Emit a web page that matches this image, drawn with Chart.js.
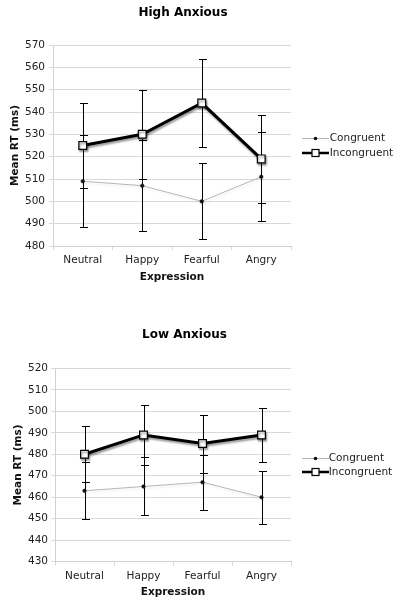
<!DOCTYPE html>
<html>
<head>
<meta charset="utf-8">
<script src="https://cdn.jsdelivr.net/npm/chart.js@4.4.1/dist/chart.umd.min.js"></script>
<style>
  body { margin: 0; background: #fff; }
  canvas { display: block; }
</style>
</head>
<body>
<canvas id="highChart" width="400" height="302"></canvas>
<canvas id="lowChart" width="400" height="302"></canvas>
<script>
const expressions = ['Neutral', 'Happy', 'Fearful', 'Angry'];
const seriesNames = ['Congruent', 'Incongruent'];

// High Anxious group
const highCongruent = [509, 507, 500, 511];
const highIncongruent = [525, 530, 544, 519];
const highCongruentErr = [20.5, 20.5, 17, 20];
const highIncongruentErr = [19, 20, 19.7, 19.7];
const highYRange = [480, 570];

// Low Anxious group
const lowCongruent = [463, 465, 467, 460];
const lowIncongruent = [480, 489, 485, 489];
const lowCongruentErr = [13.2, 13.5, 12.8, 12.3];
const lowIncongruentErr = [13, 13.8, 13.5, 12.7];
const lowYRange = [430, 520];

Chart.defaults.font.family = "'DejaVu Sans', Verdana, sans-serif";
Chart.defaults.color = '#222';

// vertical error bars, drawn under the markers
const errorBarPlugin = {
    id: 'errorBars',
    beforeDatasetsDraw(chart) {
        const ctx = chart.ctx;
        const yScale = chart.scales.y;
        ctx.save();
        ctx.strokeStyle = '#000';
        ctx.lineWidth = 1;
        chart.data.datasets.forEach((ds, i) => {
            const meta = chart.getDatasetMeta(i);
            if (!ds.errors || meta.hidden) return;
            meta.data.forEach((pt, j) => {
                const v = ds.data[j], e = ds.errors[j];
                const top = Math.round(yScale.getPixelForValue(v + e)) + 0.5;
                const bot = Math.round(yScale.getPixelForValue(v - e)) + 0.5;
                const x = Math.round(pt.x) + 0.5;
                ctx.beginPath();
                ctx.moveTo(x, top); ctx.lineTo(x, bot);
                ctx.moveTo(x - 3.5, top); ctx.lineTo(x + 4.5, top);
                ctx.moveTo(x - 3.5, bot); ctx.lineTo(x + 4.5, bot);
                ctx.stroke();
            });
        });
        ctx.restore();
    }
};

// soft drop shadow under a series, like the office chart style
const shadowPlugin = {
    id: 'lineShadow',
    beforeDatasetDraw(chart, args) {
        const ds = chart.data.datasets[args.index];
        if (!ds.shadow) return;
        const ctx = chart.ctx;
        ctx.save();
        ctx.shadowColor = ds.shadow;
        ctx.shadowOffsetX = 1;
        ctx.shadowOffsetY = 2;
        ctx.shadowBlur = 2;
    },
    afterDatasetDraw(chart, args) {
        if (chart.data.datasets[args.index].shadow) chart.ctx.restore();
    }
};

// the legend box is kept narrow so the title centres like the original;
// let it reach the canvas edge so the labels are not clipped
const legendRoom = {
    id: 'legendRoom',
    afterLayout(chart) {
        const l = chart.legend;
        if (!l) return;
        l.right = chart.width;
        l.width = l.right - l.left;
    }
};

function makeIcon(kind, markerX) {
    const c = document.createElement('canvas');
    c.width = 40; c.height = 12;
    const g = c.getContext('2d');
    if (kind === 0) {
        g.strokeStyle = '#b5b5b5'; g.lineWidth = 1;
        g.beginPath(); g.moveTo(markerX - 13, 6.5); g.lineTo(markerX + 14, 6.5); g.stroke();
        g.fillStyle = '#111';
        g.beginPath(); g.arc(markerX + 0.5, 6.5, 1.8, 0, Math.PI * 2); g.fill();
    } else {
        g.strokeStyle = '#000'; g.lineWidth = 2.5;
        g.beginPath(); g.moveTo(markerX - 13, 6); g.lineTo(markerX + 14, 6); g.stroke();
        g.fillStyle = '#fff';
        g.fillRect(markerX - 3, 2.5, 7, 7);
        g.lineWidth = 1.2;
        g.strokeRect(markerX - 3, 2.5, 7, 7);
    }
    return c;
}

function buildChart(canvasId, title, congruent, incongruent, congErr, incErr, yRange, lay) {
    const icons = [makeIcon(0, lay.markerX), makeIcon(1, lay.markerX)];
    return new Chart(document.getElementById(canvasId), {
        type: 'line',
        data: {
            labels: expressions,
            datasets: [{
                label: seriesNames[0],
                data: congruent,
                errors: congErr,
                borderColor: '#b5b5b5',
                borderWidth: 1,
                pointStyle: 'circle',
                pointRadius: 1.8,
                pointBorderWidth: 0.5,
                pointBackgroundColor: '#111',
                pointBorderColor: '#111',
                shadow: 'rgba(0,0,0,0.07)'
            }, {
                label: seriesNames[1],
                data: incongruent,
                errors: incErr,
                borderColor: '#000',
                borderWidth: 3,
                pointStyle: 'rect',
                pointRadius: 5.5,
                pointBorderWidth: 1.2,
                pointBackgroundColor: '#fff',
                pointBorderColor: '#000',
                shadow: 'rgba(0,0,0,0.4)'
            }]
        },
        options: {
            responsive: false,
            animation: false,
            layout: { padding: { left: 0, right: lay.padRight, top: 0, bottom: 0 } },
            plugins: {
                title: {
                    display: true,
                    text: title,
                    color: '#000',
                    font: { size: 12, weight: 'bold' },
                    padding: { top: lay.titleTop, bottom: lay.titleBottom }
                },
                legend: {
                    position: 'right',
                    fullSize: false,
                    maxWidth: lay.legendWidth,
                    labels: {
                        usePointStyle: true,
                        pointStyleWidth: 29,
                        padding: lay.legendPad,
                        color: '#222',
                        font: { size: 10.5 },
                        generateLabels: (chart) => {
                            const items = Chart.defaults.plugins.legend.labels.generateLabels(chart);
                            items.forEach((it, i) => { it.pointStyle = icons[i]; });
                            return items;
                        }
                    }
                },
                tooltip: { enabled: false }
            },
            scales: {
                x: {
                    offset: true,
                    grid: { drawOnChartArea: false, offset: true, tickLength: 4, color: '#d9d9d9' },
                    border: { color: '#d0d0d0' },
                    ticks: { padding: lay.xTickPad, font: { size: 10.5 }, color: '#222' },
                    title: {
                        display: true, text: 'Expression', color: '#111',
                        font: { size: 10.5, weight: 'bold' },
                        padding: { top: 0, bottom: lay.xTitleBottom }
                    },
                    afterFit: (s) => { s.height = lay.xHeight; }
                },
                y: {
                    min: yRange[0],
                    max: yRange[1],
                    grid: { color: '#d9d9d9', tickLength: 4 },
                    border: { color: '#d0d0d0' },
                    ticks: { stepSize: 10, padding: lay.yTickPad, font: { size: 10.5 }, color: '#222' },
                    title: {
                        display: true, text: 'Mean RT (ms)', color: '#111',
                        font: { size: 10.5, weight: 'bold' },
                        padding: { top: lay.yTitleLeft, bottom: 0 }
                    },
                    afterFit: (s) => { s.width = lay.yWidth; }
                }
            }
        },
        plugins: [errorBarPlugin, shadowPlugin, legendRoom]
    });
}

buildChart('highChart', 'High Anxious', highCongruent, highIncongruent,
    highCongruentErr, highIncongruentErr, highYRange, {
        padRight: 34, legendWidth: 75, legendPad: 4.5, markerX: 25,
        titleTop: 6, titleBottom: 24.6,
        xHeight: 56, xTickPad: 3.7, xTitleBottom: 18.7,
        yWidth: 53, yTickPad: 4, yTitleLeft: 8.7
    });

buildChart('lowChart', 'Low Anxious', lowCongruent, lowIncongruent,
    lowCongruentErr, lowIncongruentErr, lowYRange, {
        padRight: 31, legendWidth: 78, legendPad: 3.5, markerX: 26,
        titleTop: 25.8, titleBottom: 26.1,
        xHeight: 42.3, xTickPad: 4, xTitleBottom: 5.7,
        yWidth: 55, yTickPad: 3, yTitleLeft: 11.7
    });
</script>
</body>
</html>
